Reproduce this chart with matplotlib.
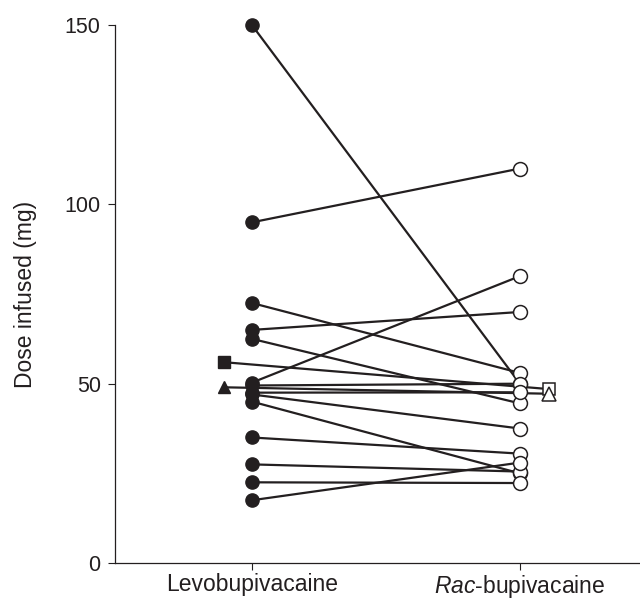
import matplotlib.pyplot as plt
import numpy as np

plt.rcParams['font.family'] = ['Liberation Sans', 'DejaVu Sans']
plt.rcParams['mathtext.fontset'] = 'custom'
plt.rcParams['mathtext.rm'] = 'Liberation Sans'
plt.rcParams['mathtext.it'] = 'Liberation Sans:italic'

# dose infused (mg), paired per patient: levobupivacaine -> rac-bupivacaine
levo = [150, 95, 72.5, 65, 62.5, 50.3, 49.5, 47.5, 47, 45, 35, 27.5, 22.5, 17.5]
rac = [50, 110, 53, 70, 44.5, 80, 50, 47.6, 37.5, 25, 30.5, 25.5, 22.3, 28]

# two patients drawn with other symbols
cuadrado = [56, 48.5]
triangulo = [49, 47.2]

categorias = ['Levobupivacaine', '$\\it{Rac}$-bupivacaine']

negro = '#231f20'

fig = plt.figure(figsize=(6.4, 5.99), dpi=100)
ax = fig.add_axes([0.1797, 0.0601, 0.8203, 0.898])

for a, b in zip(levo, rac):
    ax.plot([0, 1], [a, b], color=negro, lw=1.6, zorder=2, clip_on=False)
ax.plot(np.zeros(len(levo)), levo, 'o', color=negro, ms=9.5, zorder=3, clip_on=False)
ax.plot(np.ones(len(rac)), rac, 'o', mfc='white', mec=negro, mew=1.1, ms=10,
        zorder=3, clip_on=False)

# cuadrado y triangulo un poco corridos
ax.plot([-0.105, 1.108], cuadrado, color=negro, lw=1.6, zorder=2)
ax.plot([-0.105], cuadrado[0], 's', color=negro, ms=8.5, zorder=3)
ax.plot([1.108], cuadrado[1], 's', mfc='white', mec=negro, mew=1.1, ms=9, zorder=3)
ax.plot([-0.105, 1.108], triangulo, color=negro, lw=1.6, zorder=2)
ax.plot([-0.105], triangulo[0], '^', color=negro, ms=9, zorder=3)
ax.plot([1.108], triangulo[1], '^', mfc='white', mec=negro, mew=1.1, ms=10, zorder=3)

ax.set_xlim(-0.511, 1.448)
ax.set_ylim(0, 150)
ax.set_xticks([0, 1])
ax.set_xticklabels(categorias, fontsize=16.5)
ax.set_yticks([0, 50, 100, 150])
ax.tick_params(axis='both', length=5, width=0.8, color=negro, labelcolor=negro)
ax.tick_params(axis='y', labelsize=15.5, pad=5.3)
ax.tick_params(axis='x', pad=2.5)
ax.set_ylabel('Dose infused (mg)', fontsize=16.5, color=negro)
ax.yaxis.set_label_coords(-0.148, 0.5)

ax.spines['top'].set_visible(False)
ax.spines['right'].set_visible(False)
for s in ['left', 'bottom']:
    ax.spines[s].set_linewidth(0.9)
    ax.spines[s].set_color(negro)

fig.savefig('out.png', dpi=100)
